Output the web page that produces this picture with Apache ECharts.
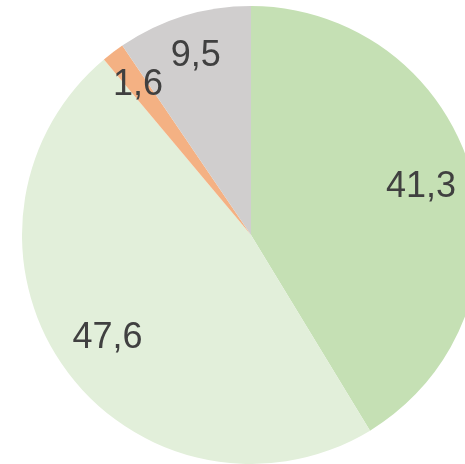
<!DOCTYPE html>
<html>
<head>
<meta charset="utf-8">
<script src="https://cdn.jsdelivr.net/npm/echarts@6/dist/echarts.min.js"></script>
<style>
  html, body { margin: 0; padding: 0; background: #fff; }
</style>
</head>
<body>
<div id='pie_chart' style='width: 465px; height: 464px'></div>
<script>
var categories = ['A', 'B', 'C', 'D']
var values = [41.3, 47.6, 1.6, 9.5]
var labels = ['41,3', '47,6', '1,6', '9,5']
var colors = ['#c5e0b4', '#e2efda', '#f4b183', '#d0cece']

var pieData = categories.map(function (name, i) {
  return { name: name, value: values[i], itemStyle: { color: colors[i] } }
})

// big slices get their label a bit closer to the centre than the thin ones
function labelRing (radius, showBig) {
  return {
    type: 'pie',
    center: [251, 235],
    radius: radius,
    startAngle: 90,
    clockwise: true,
    silent: true,
    itemStyle: { color: 'rgba(0,0,0,0)', borderWidth: 0 },
    label: {
      position: 'inside',
      color: '#404040',
      fontSize: 36,
      fontFamily: 'Liberation Sans, Arial, sans-serif'
    },
    labelLine: { show: false },
    data: categories.map(function (name, i) {
      var big = values[i] > 20
      return {
        name: name,
        value: values[i],
        label: { show: big === showBig, formatter: labels[i] }
      }
    })
  }
}

echarts.init(document.getElementById('pie_chart')).setOption({
  animation: false,
  series: [
    {
      type: 'pie',
      center: [251, 235],
      radius: [0, 229],
      startAngle: 90,
      clockwise: true,
      silent: true,
      label: { show: false },
      labelLine: { show: false },
      itemStyle: { borderWidth: 0 },
      data: pieData
    },
    labelRing([118, 229], true),
    labelRing([140, 229], false)
  ]
})
</script>
</body>
</html>
